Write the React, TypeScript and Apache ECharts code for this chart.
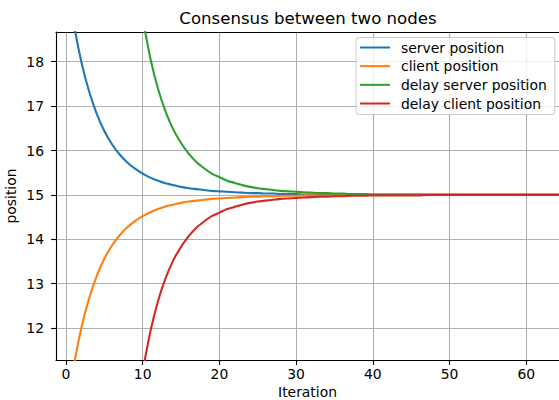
import React, { useEffect, useRef } from 'react';
import * as echarts from 'echarts';

const iterations = [
  0, 1, 2, 3, 4, 5, 6, 7, 8, 9, 10, 11, 12, 13, 14, 15, 16, 17, 18, 19, 20, 21,
  22, 23, 24, 25, 26, 27, 28, 29, 30, 31, 32, 33, 34, 35, 36, 37, 38, 39, 40, 41,
  42, 43, 44, 45, 46, 47, 48, 49, 50, 51, 52, 53, 54, 55, 56, 57, 58, 59, 60, 61,
  62, 63, 64, 65,
];

const serverPosition = [
  20.04, 18.88, 18.0, 17.34, 16.83, 16.44, 16.14, 15.91, 15.73, 15.59,
  15.48, 15.39, 15.32, 15.26, 15.22, 15.18, 15.15, 15.13, 15.11, 15.09,
  15.08, 15.07, 15.06, 15.05, 15.04, 15.04, 15.03, 15.03, 15.02, 15.02,
  15.02, 15.01, 15.01, 15.01, 15.01, 15.01, 15.01, 15.01, 15.0, 15.0,
  15.0, 15.0, 15.0, 15.0, 15.0, 15.0, 15.0, 15.0, 15.0, 15.0,
  15.0, 15.0, 15.0, 15.0, 15.0, 15.0, 15.0, 15.0, 15.0, 15.0,
  15.0, 15.0, 15.0, 15.0, 15.0, 15.0,
];

const clientPosition = [
  9.96, 11.12, 12.0, 12.66, 13.17, 13.56, 13.86, 14.09, 14.27, 14.41,
  14.52, 14.61, 14.68, 14.74, 14.78, 14.82, 14.85, 14.87, 14.89, 14.91,
  14.92, 14.93, 14.94, 14.95, 14.96, 14.96, 14.97, 14.97, 14.98, 14.98,
  14.98, 14.99, 14.99, 14.99, 14.99, 14.99, 14.99, 14.99, 15.0, 15.0,
  15.0, 15.0, 15.0, 15.0, 15.0, 15.0, 15.0, 15.0, 15.0, 15.0,
  15.0, 15.0, 15.0, 15.0, 15.0, 15.0, 15.0, 15.0, 15.0, 15.0,
  15.0, 15.0, 15.0, 15.0, 15.0, 15.0,
];

const delayServerPosition = [
  null, null, null, null, null, null, null, null, null, null,
  18.98, 18.08, 17.39, 16.87, 16.47, 16.17, 15.93, 15.74, 15.6, 15.48,
  15.4, 15.32, 15.27, 15.22, 15.18, 15.15, 15.13, 15.11, 15.09, 15.08,
  15.07, 15.06, 15.05, 15.04, 15.04, 15.03, 15.03, 15.02, 15.02, 15.02,
  15.01, 15.01, 15.01, 15.01, 15.01, 15.01, 15.01, 15.0, 15.0, 15.0,
  15.0, 15.0, 15.0, 15.0, 15.0, 15.0, 15.0, 15.0, 15.0, 15.0,
  15.0, 15.0, 15.0, 15.0, 15.0, 15.0,
];

const delayClientPosition = [
  null, null, null, null, null, null, null, null, null, null,
  11.02, 11.92, 12.61, 13.13, 13.53, 13.83, 14.07, 14.26, 14.4, 14.52,
  14.6, 14.68, 14.73, 14.78, 14.82, 14.85, 14.87, 14.89, 14.91, 14.92,
  14.93, 14.94, 14.95, 14.96, 14.96, 14.97, 14.97, 14.98, 14.98, 14.98,
  14.99, 14.99, 14.99, 14.99, 14.99, 14.99, 14.99, 15.0, 15.0, 15.0,
  15.0, 15.0, 15.0, 15.0, 15.0, 15.0, 15.0, 15.0, 15.0, 15.0,
  15.0, 15.0, 15.0, 15.0, 15.0, 15.0,
];

const seriesNames = [
  'server position',
  'client position',
  'delay server position',
  'delay client position',
];
const seriesColors = ['#1f77b4', '#ff7f0e', '#2ca02c', '#d62728'];
const xTicks = [0, 10, 20, 30, 40, 50, 60];
const yTicks = [12, 13, 14, 15, 16, 17, 18];

export default function App() {
  const ref = useRef<HTMLDivElement>(null);

  useEffect(() => {
    if (!ref.current) return;
    const chart = echarts.init(ref.current, null, { renderer: 'svg' });
    const font = 'DejaVu Sans';
    const allSeries = [serverPosition, clientPosition, delayServerPosition, delayClientPosition];
    const toPairs = (ys: (number | null)[]) =>
      iterations
        .map((x, i) => [x, ys[i]])
        .filter((p) => p[1] !== null && p[1] !== undefined);

    const axisLineStyle = { color: '#000', width: 1.1 };
    const labelStyle = { fontFamily: font, fontSize: 13.9, color: '#000' };

    chart.setOption({
      animation: false,
      backgroundColor: '#fff',
      title: {
        text: 'Consensus between two nodes',
        left: 308,
        top: 10,
        textAlign: 'center',
        padding: 0,
        textStyle: { fontFamily: font, fontSize: 16.6, fontWeight: 'normal', color: '#000' },
      },
      grid: {
        left: 56,
        top: 32,
        right: 0,
        bottom: 40,
        containLabel: false,
        outerBoundsMode: 'none',
      },
      legend: {
        orient: 'vertical',
        left: 356,
        top: 37.5,
        padding: [3, 8, 4, 4],
        itemWidth: 30,
        itemHeight: 2,
        itemGap: 4.67,
        icon: 'rect',
        backgroundColor: 'rgba(255,255,255,0.8)',
        borderColor: '#cccccc',
        borderWidth: 1,
        borderRadius: 3,
        textStyle: { ...labelStyle, lineHeight: 14, padding: [0, 0, 0, 6] },
        data: seriesNames,
      },
      xAxis: [
        {
          type: 'value',
          min: -1.3,
          max: 64.27,
          position: 'bottom',
          name: 'Iteration',
          nameLocation: 'middle',
          nameGap: 25,
          nameMoveOverlap: false,
          nameTextStyle: labelStyle,
          axisLine: { show: true, onZero: false, lineStyle: axisLineStyle },
          axisTick: { show: true, length: 4.9, lineStyle: axisLineStyle, customValues: xTicks },
          axisLabel: { ...labelStyle, margin: 7, customValues: xTicks },
          splitLine: { show: true, lineStyle: { color: '#b0b0b0', width: 1.1 } },
        },
        {
          type: 'value',
          min: -1.3,
          max: 64.27,
          position: 'top',
          show: true,
          axisLine: { show: true, onZero: false, lineStyle: axisLineStyle },
          axisTick: { show: false },
          axisLabel: { show: false },
          splitLine: { show: false },
        },
      ],
      yAxis: {
        type: 'value',
        min: 11.28,
        max: 18.67,
        name: 'position',
        nameLocation: 'middle',
        nameGap: 38,
        nameMoveOverlap: false,
        nameTextStyle: labelStyle,
        axisLine: { show: true, onZero: false, lineStyle: axisLineStyle },
        axisTick: { show: true, length: 4.9, lineStyle: axisLineStyle, customValues: yTicks },
        axisLabel: { ...labelStyle, margin: 12, customValues: yTicks },
        splitLine: { show: true, lineStyle: { color: '#b0b0b0', width: 1.1 } },
      },
      series: allSeries.map((ys, i) => ({
        name: seriesNames[i],
        type: 'line',
        xAxisIndex: 0,
        data: toPairs(ys),
        showSymbol: false,
        symbol: 'none',
        smooth: 0.2,
        clip: true,
        color: seriesColors[i],
        lineStyle: { color: seriesColors[i], width: 2.1 },
      })),
    });

    return () => chart.dispose();
  }, []);

  return (
    <div
      ref={ref}
      style={{ position: 'fixed', left: 0, top: 0, width: 559, height: 400, background: '#fff' }}
    />
  );
}
